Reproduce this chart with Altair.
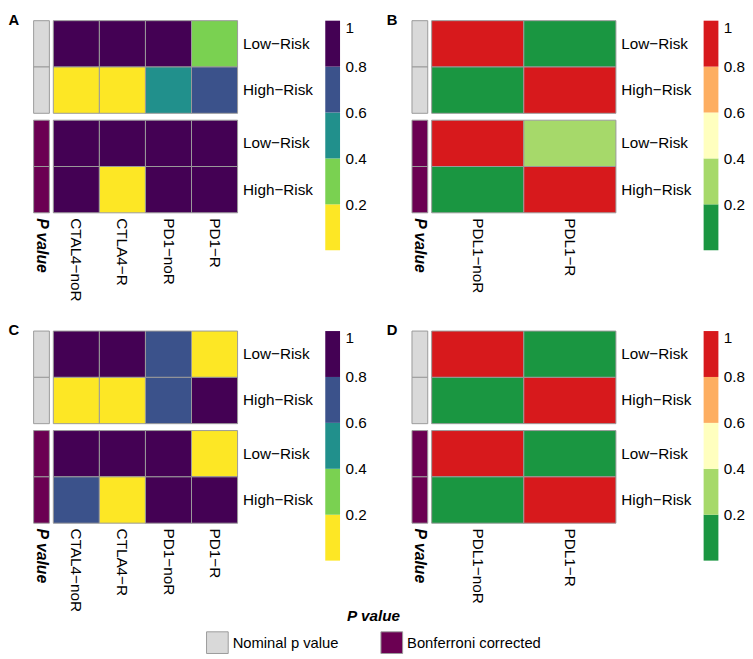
import altair as alt
import pandas as pd

FONT = "Liberation Sans"

# ---------------- data ----------------
cols_ac = ["CTAL4\u2212noR", "CTLA4\u2212R", "PD1\u2212noR", "PD1\u2212R"]
cols_bd = ["PDL1\u2212noR", "PDL1\u2212R"]
risks = ["Low\u2212Risk", "High\u2212Risk"]
ann_types = ["Nominal p value", "Bonferroni corrected"]
ann_colors = ["#d9d9d9", "#6b0052"]
ann_label = ["P value"]

viridis5 = ["#fde725", "#7ad151", "#21908c", "#3b528b", "#440154"]
rdylgn5 = ["#1a9641", "#a6d96a", "#ffffbf", "#fdae61", "#d7191c"]
thresholds = [0.2, 0.4, 0.6, 0.8]
bar_lo = [0.0, 0.2, 0.4, 0.6, 0.8]
bar_hi = [0.2, 0.4, 0.6, 0.8, 1.0]
bar_ticks = [0.2, 0.4, 0.6, 0.8, 1.0]

# panel A
a_nom_low = [0.95, 0.93, 0.90, 0.30]
a_nom_high = [0.04, 0.06, 0.50, 0.70]
a_bon_low = [1.0, 1.0, 1.0, 1.0]
a_bon_high = [1.0, 0.15, 1.0, 1.0]
# panel B
b_nom_low = [0.95, 0.05]
b_nom_high = [0.05, 0.95]
b_bon_low = [1.0, 0.30]
b_bon_high = [0.10, 1.0]
# panel C
c_nom_low = [0.90, 0.88, 0.70, 0.04]
c_nom_high = [0.06, 0.08, 0.65, 0.92]
c_bon_low = [1.0, 1.0, 1.0, 0.12]
c_bon_high = [0.75, 0.18, 1.0, 1.0]
# panel D
d_nom_low = [0.95, 0.05]
d_nom_high = [0.05, 0.95]
d_bon_low = [1.0, 0.10]
d_bon_high = [0.10, 1.0]

BORDER = "#9a9a9a"
HEAT_W = 187
ROW_H = 94
LBL = 15.5

legend_def = alt.Legend(
    title="P value", orient="none", legendX=175, legendY=597,
    direction="horizontal", titleAnchor="middle", titleOrient="top",
    titleFont=FONT, titleFontSize=15.5, titleFontWeight="bold", titleFontStyle="italic",
    titleColor="black", titlePadding=7,
    labelFont=FONT, labelFontSize=15, labelColor="black", labelOffset=4,
    symbolType="square", symbolSize=484, symbolStrokeColor=BORDER,
    symbolStrokeWidth=1, symbolOpacity=1, columnPadding=40, padding=0,
)


def annot(ptype, bottom):
    df = pd.DataFrame({"lab": ann_label * 2, "risk": risks, "ptype": [ptype] * 2})
    if bottom:
        xenc = alt.X("lab:N", title=None,
                     axis=alt.Axis(labelAngle=90, labelAlign="left", labelBaseline="middle",
                                   labelPadding=5, ticks=False, domain=False, labelFontSize=16,
                                   labelFontWeight="bold", labelFontStyle="italic"))
    else:
        xenc = alt.X("lab:N", axis=None)
    return alt.Chart(df).mark_rect(stroke=BORDER, strokeWidth=1).encode(
        x=xenc,
        y=alt.Y("risk:N", sort=risks, axis=None),
        fill=alt.Fill("ptype:N", scale=alt.Scale(domain=ann_types, range=ann_colors),
                      legend=legend_def),
    ).properties(width=16, height=ROW_H)


def heat(cols, low, high, colors, bottom):
    n = len(cols)
    df = pd.DataFrame({"col": cols + cols,
                       "risk": [risks[0]] * n + [risks[1]] * n,
                       "p": low + high})
    if bottom:
        xenc = alt.X("col:N", sort=cols, title=None,
                     axis=alt.Axis(labelAngle=90, labelAlign="left", labelBaseline="middle",
                                   labelPadding=5, ticks=False, domain=False))
    else:
        xenc = alt.X("col:N", sort=cols, axis=None)
    return alt.Chart(df).mark_rect(stroke=BORDER, strokeWidth=1).encode(
        x=xenc,
        y=alt.Y("risk:N", sort=risks, title=None,
                axis=alt.Axis(orient="right", ticks=False, domain=False, labelPadding=5)),
        color=alt.Color("p:Q", scale=alt.Scale(type="threshold", domain=thresholds, range=colors),
                        legend=None),
    ).properties(width=HEAT_W, height=ROW_H)


def cbar(colors):
    df = pd.DataFrame({"lo": bar_lo, "hi": bar_hi})
    return alt.Chart(df).mark_rect().encode(
        y=alt.Y("lo:Q", title=None,
                scale=alt.Scale(domain=[0, 1], nice=False, zero=False),
                axis=alt.Axis(orient="right", values=bar_ticks, format="~g", ticks=False,
                              domain=False, grid=False, labelPadding=5, labelFlush=True)),
        y2="hi:Q",
        color=alt.Color("lo:Q", scale=alt.Scale(type="threshold", domain=thresholds, range=colors),
                        legend=None),
    ).properties(width=15, height=233)


def panel(letter, cols, nl, nh, bl, bh, colors):
    ann = alt.vconcat(annot(ann_types[0], False), annot(ann_types[1], True), spacing=5)
    hm = alt.vconcat(heat(cols, nl, nh, colors, False), heat(cols, bl, bh, colors, True), spacing=5)
    core = alt.hconcat(ann, hm, spacing=2)
    return alt.hconcat(
        core, cbar(colors), spacing=12,
        title=alt.TitleParams(letter, anchor="start", dx=-25, dy=6, offset=-2, baseline="top",
                              font=FONT, fontSize=15, fontWeight="bold", color="black"),
    )


pA = panel("A", cols_ac, a_nom_low, a_nom_high, a_bon_low, a_bon_high, viridis5)
pB = panel("B", cols_bd, b_nom_low, b_nom_high, b_bon_low, b_bon_high, rdylgn5)
pC = panel("C", cols_ac, c_nom_low, c_nom_high, c_bon_low, c_bon_high, viridis5)
pD = panel("D", cols_bd, d_nom_low, d_nom_high, d_bon_low, d_bon_high, rdylgn5)

rowAB = alt.hconcat(pA, pB, spacing=20).resolve_scale(color="independent")
rowCD = alt.hconcat(pC, pD, spacing=20).resolve_scale(color="independent")

chart = alt.vconcat(rowAB, rowCD, spacing=22).resolve_scale(color="independent").properties(
    padding=0
).configure_axis(
    labelFont=FONT, labelFontSize=LBL, labelColor="black"
).configure_view(stroke=None)

chart.save("out.html", embed_options={"renderer": "svg", "actions": False})
